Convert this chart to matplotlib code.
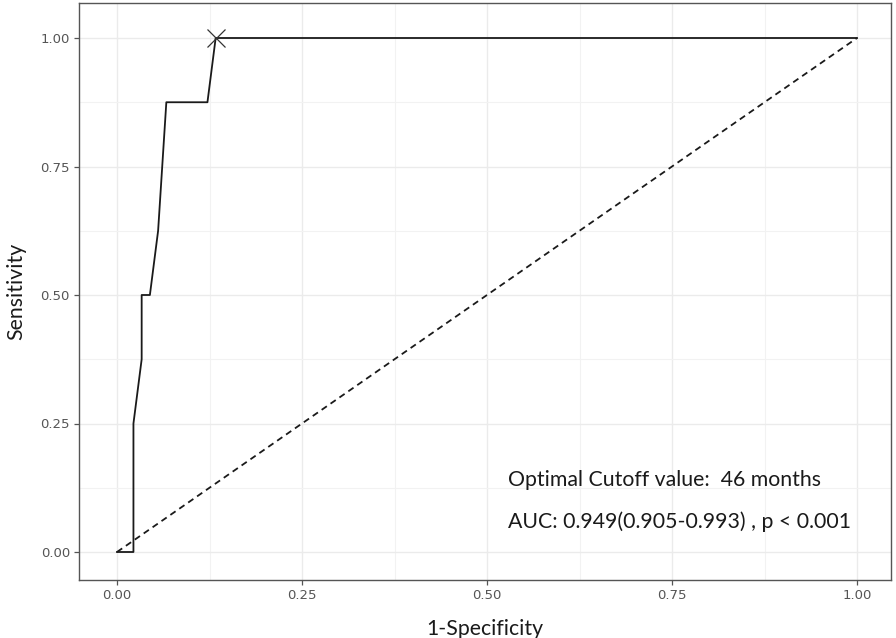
import matplotlib
matplotlib.use("Agg")
import matplotlib.pyplot as plt
import numpy as np

# ROC curve data (8 positives, 90 negatives)
fpr = [0.0, 2/90, 2/90, 3/90, 3/90, 4/90, 5/90, 6/90, 11/90, 12/90, 1.0]
tpr = [0.0, 0.0, 0.25, 0.375, 0.5, 0.5, 0.625, 0.875, 0.875, 1.0, 1.0]
cutoff_point = (12/90, 1.0)
diag = [0.0, 1.0]
ticks = [0.0, 0.25, 0.5, 0.75, 1.0]
tick_labels = ["0.00", "0.25", "0.50", "0.75", "1.00"]
minor_ticks = [0.125, 0.375, 0.625, 0.875]
annot1 = "Optimal Cutoff value:  46 months"
annot2 = "AUC: 0.949(0.905-0.993) , p < 0.001"

W, H = 896, 638
fig = plt.figure(figsize=(W/100, H/100), dpi=100)
left, right, top, bottom = 79, 891, 2.5, 580
ax = fig.add_axes([left/W, 1-bottom/H, (right-left)/W, (bottom-top)/H])

x0px, x1px = 117, 857
y0px, y1px = 552, 38
ax.set_xlim((left-x0px)/(x1px-x0px), (right-x0px)/(x1px-x0px))
ax.set_ylim((y0px-bottom)/(y0px-y1px), (y0px-top)/(y0px-y1px))

ax.set_xticks(ticks)
ax.set_xticklabels(tick_labels)
ax.set_yticks(ticks)
ax.set_yticklabels(tick_labels)
ax.set_xticks(minor_ticks, minor=True)
ax.set_yticks(minor_ticks, minor=True)
ax.grid(True, which="major", color="#ebebeb", linewidth=1.0)
ax.grid(True, which="minor", color="#f2f2f2", linewidth=0.8)
ax.set_axisbelow(True)
ax.tick_params(which="minor", length=0)
ax.tick_params(which="major", length=3.5, width=0.9, color="#555555",
               labelcolor="#555555", labelsize=9.5, pad=3)
for sp in ax.spines.values():
    sp.set_color("#555555")
    sp.set_linewidth(1.0)

ax.plot(diag, diag, linestyle=(0, (3.5, 2.5)), color="#1a1a1a", linewidth=1.3)
ax.plot(fpr, tpr, color="#1a1a1a", linewidth=1.3)
ax.plot([cutoff_point[0]], [cutoff_point[1]], marker="x", markersize=13,
        markeredgewidth=0.9, color="#333333", linestyle="none")

font = ["Lato", "DejaVu Sans"]
ax.text(0.528, 0.140, annot1, fontsize=15.3, family=font, va="center", ha="left", color="#1a1a1a")
ax.text(0.528, 0.058, annot2, fontsize=15.3, family=font, va="center", ha="left", color="#1a1a1a")

ax.set_xlabel("1-Specificity", fontsize=15.3, family=font, labelpad=12, color="#1a1a1a")
ax.set_ylabel("Sensitivity", fontsize=15.3, family=font, labelpad=10, color="#1a1a1a")

fig.savefig("out.png", dpi=100)
